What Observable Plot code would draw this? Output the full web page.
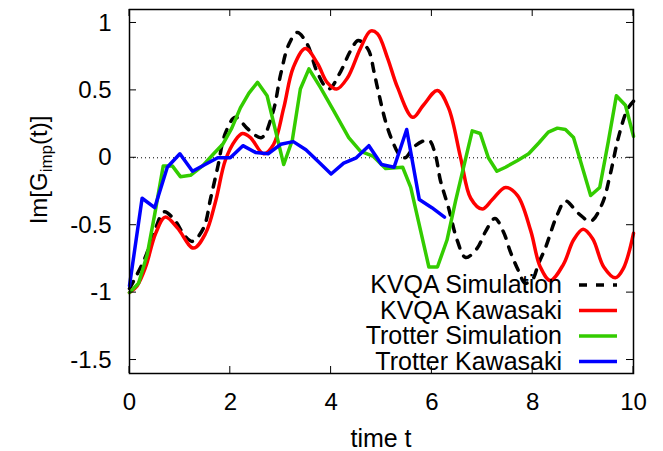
<!DOCTYPE html>
<html><head><meta charset="utf-8">
<script src="https://cdn.jsdelivr.net/npm/d3@7"></script>
<script src="https://cdn.jsdelivr.net/npm/@observablehq/plot@0.6"></script>
<style>
body{margin:0;background:#fff}
svg{font-family:"Liberation Sans",Arial,Helvetica,sans-serif}
</style>
</head><body><div id="chart"></div><script>
// ---- data ----
const xTicks = [0, 2, 4, 6, 8, 10];
const yTicks = [-1.5, -1, -0.5, 0, 0.5, 1];
const seriesNames = ["KVQA Simulation", "KVQA Kawasaki", "Trotter Simulation", "Trotter Kawasaki"];
const seriesColors = ["#000000", "#ff0000", "#33cc00", "#0000ff"];
const xLabel = "time t";

const kvqaSimT = [0,0.3,0.52,0.69,0.91,1.1,1.25,1.47,1.61,1.75,1.9,2.1,2.36,2.62,2.84,3.0,3.16,3.33,3.53,3.73,3.95,4.19,4.38,4.54,4.74,4.85,4.92,5.08,5.2,5.36,5.47,5.67,5.94,6.07,6.17,6.33,6.5,6.67,6.9,7.06,7.25,7.42,7.56,7.72,7.85,8.0,8.11,8.25,8.49,8.65,8.9,9.15,9.38,9.54,9.7,9.88,10];
const kvqaSimV = [-0.97,-0.75,-0.52,-0.40,-0.47,-0.58,-0.62,-0.52,-0.30,-0.07,0.18,0.30,0.21,0.15,0.33,0.62,0.84,0.93,0.84,0.63,0.51,0.64,0.79,0.87,0.80,0.64,0.52,0.27,0.14,0.02,0.0,0.09,0.13,0.02,-0.17,-0.37,-0.61,-0.74,-0.67,-0.55,-0.45,-0.55,-0.70,-0.84,-0.93,-0.90,-0.79,-0.67,-0.42,-0.32,-0.41,-0.47,-0.34,-0.12,0.15,0.36,0.42];

const kvqaKawT = [0,0.15,0.32,0.52,0.71,0.95,1.27,1.51,1.71,1.9,2.1,2.24,2.4,2.66,2.86,3.06,3.25,3.49,3.73,3.92,4.11,4.32,4.58,4.78,4.92,5.12,5.32,5.62,5.83,6.11,6.33,6.57,6.77,7.0,7.2,7.46,7.7,7.96,8.15,8.35,8.61,8.81,9.0,9.19,9.41,9.64,9.8,10];
const kvqaKawV = [-1.0,-0.95,-0.81,-0.56,-0.44,-0.52,-0.67,-0.56,-0.32,-0.02,0.13,0.18,0.15,0.03,0.10,0.37,0.67,0.81,0.70,0.56,0.51,0.59,0.81,0.94,0.92,0.74,0.52,0.30,0.39,0.50,0.37,0.0,-0.30,-0.38,-0.31,-0.22,-0.28,-0.54,-0.81,-0.91,-0.79,-0.61,-0.53,-0.60,-0.81,-0.89,-0.82,-0.56];

const trotSimT = [0,0.18,0.35,0.5,0.67,0.85,1.01,1.21,1.45,1.67,1.85,2.03,2.2,2.37,2.54,2.73,3.06,3.23,3.39,3.56,3.79,4.05,4.35,4.58,4.84,5.08,5.42,5.58,5.94,6.11,6.3,6.47,6.8,6.96,7.12,7.29,7.46,7.7,7.92,8.12,8.31,8.49,8.65,8.81,9.15,9.33,9.5,9.66,9.84,10];
const trotSimV = [-1.0,-0.93,-0.72,-0.42,-0.06,-0.06,-0.14,-0.13,-0.06,0.03,0.10,0.22,0.37,0.48,0.56,0.46,-0.05,0.13,0.51,0.66,0.52,0.35,0.15,0.05,0.01,-0.08,-0.07,-0.22,-0.81,-0.81,-0.61,-0.32,0.20,0.18,0.0,-0.10,-0.07,-0.02,0.03,0.11,0.19,0.22,0.21,0.15,-0.28,-0.22,0.12,0.46,0.39,0.16];

const trotKawT = [0,0.25,0.5,0.75,1.0,1.25,1.5,1.75,2.0,2.25,2.5,2.75,3.0,3.25,3.5,3.75,4.0,4.25,4.5,4.75,5.0,5.25,5.5,5.75,6.0,6.25];
const trotKawV = [-0.95,-0.30,-0.37,-0.07,0.03,-0.10,-0.05,0.0,0.0,0.09,0.04,0.03,0.10,0.12,0.06,-0.03,-0.12,-0.04,0.0,0.09,-0.05,-0.07,0.21,-0.31,-0.37,-0.44];

// ---- build tables ----
const toRows = (ts, vs) => ts.map((t, i) => ({t, v: vs[i]}));
const kvqaSim = toRows(kvqaSimT, kvqaSimV);
const kvqaKaw = toRows(kvqaKawT, kvqaKawV);
const trotSim = toRows(trotSimT, trotSimV);
const trotKaw = toRows(trotKawT, trotKawV);

const FONT = '"Liberation Sans",Arial,Helvetica,sans-serif';
const LW = 3.5;
const dashes = ["8,9", null, null, null];

const chart = Plot.plot({
  width: 663, height: 451,
  marginLeft: 129, marginRight: 30, marginTop: 9, marginBottom: 78,
  x: {domain: [0, 10]},
  y: {domain: [-1.6, 1.1]},
  style: {fontFamily: FONT, fontSize: "24px", color: "#000", background: "#fff", overflow: "visible"},
  marks: [
    Plot.ruleY([0], {stroke: "#000", strokeWidth: 1, strokeDasharray: "1,3"}),
    Plot.line(kvqaSim, {x: "t", y: "v", stroke: seriesColors[0], strokeWidth: LW, strokeDasharray: dashes[0], curve: "catmull-rom"}),
    Plot.line(kvqaKaw, {x: "t", y: "v", stroke: seriesColors[1], strokeWidth: LW, curve: "catmull-rom"}),
    Plot.line(trotSim, {x: "t", y: "v", stroke: seriesColors[2], strokeWidth: LW, curve: "linear"}),
    Plot.line(trotKaw, {x: "t", y: "v", stroke: seriesColors[3], strokeWidth: LW, curve: "linear"}),
    Plot.frame({stroke: "#000", strokeWidth: 1.5}),
    Plot.axisX(xTicks, {tickSize: 0, tickPadding: 19, label: null, fontSize: 24, tickFormat: d => String(d)}),
    Plot.axisY(yTicks, {tickSize: 0, tickPadding: 18, label: null, fontSize: 24, tickFormat: d => String(d)})
  ]
});
document.getElementById("chart").appendChild(chart);

// ---- inward ticks, axis labels, legend (positions from the Plot scales) ----
const sx = chart.scale("x"), sy = chart.scale("y");
const [x0, x1] = sx.range, [y0, y1] = sy.range; // y0 bottom, y1 top
const svg = d3.select(chart);
const g = svg.append("g").attr("stroke", "#000").attr("stroke-width", 1);
const TL = 7;
xTicks.forEach(t => {
  const px = sx.apply(t);
  g.append("line").attr("x1", px).attr("x2", px).attr("y1", y0).attr("y2", y0 - TL);
  g.append("line").attr("x1", px).attr("x2", px).attr("y1", y1).attr("y2", y1 + TL);
});
yTicks.forEach(v => {
  const py = sy.apply(v);
  g.append("line").attr("y1", py).attr("y2", py).attr("x1", x0).attr("x2", x0 + TL);
  g.append("line").attr("y1", py).attr("y2", py).attr("x1", x1).attr("x2", x1 - TL);
});

// x label
svg.append("text").attr("x", (x0 + x1) / 2).attr("y", 447)
  .attr("text-anchor", "middle").attr("font-size", 25).attr("font-family", FONT).attr("fill", "#000")
  .text(xLabel);

// y label Im[G_imp(t)]
const yl = svg.append("text").attr("transform", "translate(47,170) rotate(-90)")
  .attr("text-anchor", "middle").attr("font-size", 24).attr("font-family", FONT).attr("fill", "#000");
yl.append("tspan").text("Im[G");
yl.append("tspan").attr("font-size", 17).attr("dy", 5).text("imp");
yl.append("tspan").attr("dy", -5).text("(t)]");

// legend
const legTextRight = 562, legLineX1 = 579, legLineX2 = 617;
const legBase = [293, 318.5, 344, 369.5];
seriesNames.forEach((name, i) => {
  svg.append("text").attr("x", legTextRight).attr("y", legBase[i])
    .attr("text-anchor", "end").attr("font-size", 25).attr("font-family", FONT).attr("fill", "#000")
    .text(name);
  const ln = svg.append("line").attr("x1", legLineX1).attr("x2", legLineX2)
    .attr("y1", legBase[i] - 8).attr("y2", legBase[i] - 8)
    .attr("stroke", seriesColors[i]).attr("stroke-width", LW);
  if (dashes[i]) ln.attr("stroke-dasharray", dashes[i]);
});
</script></body></html>
